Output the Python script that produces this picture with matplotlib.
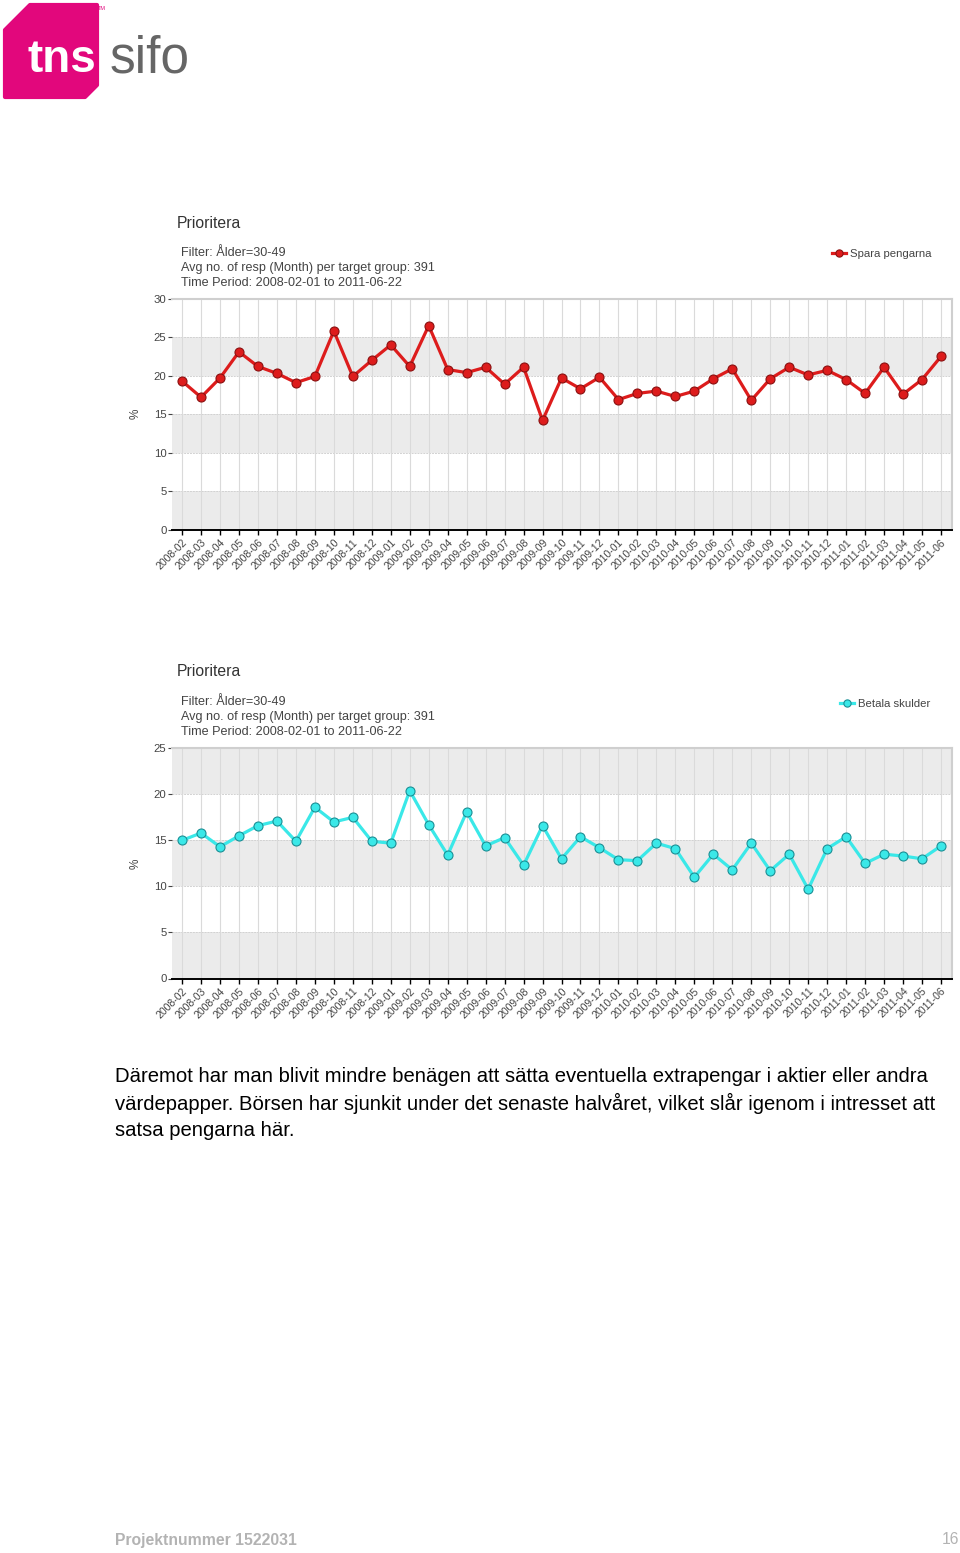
import matplotlib
matplotlib.use("Agg")
import matplotlib.pyplot as plt
from matplotlib.patches import Polygon

plt.rcParams['font.family'] = ['Liberation Sans', 'DejaVu Sans']

# months 2008-02 .. 2011-06
months = ["2008-02", "2008-03", "2008-04", "2008-05", "2008-06", "2008-07", "2008-08",
          "2008-09", "2008-10", "2008-11", "2008-12", "2009-01", "2009-02", "2009-03",
          "2009-04", "2009-05", "2009-06", "2009-07", "2009-08", "2009-09", "2009-10",
          "2009-11", "2009-12", "2010-01", "2010-02", "2010-03", "2010-04", "2010-05",
          "2010-06", "2010-07", "2010-08", "2010-09", "2010-10", "2010-11", "2010-12",
          "2011-01", "2011-02", "2011-03", "2011-04", "2011-05", "2011-06"]

spara = [19.3, 17.2, 19.7, 23.1, 21.2, 20.3, 19.1, 19.9, 25.8, 19.9, 22.0, 24.0, 21.2, 26.5,
         20.8, 20.4, 21.1, 18.9, 21.1, 14.2, 19.7, 18.3, 19.8, 16.9, 17.7, 18.0, 17.3, 18.0,
         19.6, 20.9, 16.8, 19.6, 21.1, 20.1, 20.7, 19.5, 17.7, 21.1, 17.6, 19.5, 22.5]

betala = [15.0, 15.8, 14.3, 15.5, 16.6, 17.1, 14.9, 18.6, 17.0, 17.5, 14.9, 14.7, 20.4, 16.7,
          13.4, 18.1, 14.4, 15.3, 12.3, 16.6, 13.0, 15.4, 14.2, 12.9, 12.8, 14.7, 14.1, 11.0,
          13.5, 11.8, 14.7, 11.7, 13.5, 9.7, 14.1, 15.4, 12.5, 13.5, 13.3, 13.0, 14.4]

subtitle = ["Filter: Ålder=30-49",
            "Avg no. of resp (Month) per target group: 391",
            "Time Period: 2008-02-01 to 2011-06-22"]

paragraph = ["Däremot har man blivit mindre benägen att sätta eventuella extrapengar i aktier eller andra",
             "värdepapper. Börsen har sjunkit under det senaste halvåret, vilket slår igenom i intresset att",
             "satsa pengarna här."]

W, H = 960, 1553
fig = plt.figure(figsize=(W / 100, H / 100), dpi=100)


def fx(x):
    return x / W


def fy(y):
    return 1 - y / H


def txt(x, y, s, **kw):
    fig.text(fx(x), fy(y), s, **kw)


def panel(top, bottom, vals, ymax, color, edge, label, title_y, leg_x, leg_y):
    ax = fig.add_axes([fx(172), fy(bottom), fx(952) - fx(172), (bottom - top) / H])
    xs = list(range(len(months)))
    ax.set_xlim(-0.53, len(months) - 1 + 0.58)
    ax.set_ylim(0, ymax)
    for lo in range(0, ymax, 10):
        ax.axhspan(lo, lo + 5, color='#ebebeb', lw=0, zorder=0)
    for yv in range(5, ymax, 5):
        ax.axhline(yv, color='#d2d2d2', lw=0.7, ls=(0, (2, 1)), zorder=0.5)
    for xv in xs:
        ax.axvline(xv, color='#dadada', lw=0.8, zorder=0.6)
    ax.plot(xs, vals, color=color, lw=2.3, marker='o', ms=6.5,
            mfc=color, mec=edge, mew=0.8, zorder=3, label=label)
    ax.set_xticks(xs)
    ax.set_xticklabels(months, rotation=45, ha='right', rotation_mode='anchor',
                       fontsize=7.6, color='#444444')
    ax.set_yticks(range(0, ymax + 1, 5))
    ax.tick_params(axis='y', labelsize=8.2, labelcolor='#444444', length=3,
                   width=0.8, color='#444444', pad=1)
    ax.tick_params(axis='x', length=3.5, width=1, color='black', pad=2)
    for s in ['top', 'right']:
        ax.spines[s].set_color('#cfcfcf')
        ax.spines[s].set_linewidth(1.5)
    ax.spines['left'].set_visible(False)
    ax.spines['bottom'].set_color('black')
    ax.spines['bottom'].set_linewidth(1.4)
    ax.set_ylabel('%', fontsize=8.5, color='#444444', labelpad=9)
    ax.patch.set_facecolor('white')

    txt(177, title_y, "Prioritera", fontsize=11.3, color='#333333', va='center')
    for i, line in enumerate(subtitle):
        txt(181, title_y + 30 + 15 * i, line, fontsize=9.1, color='#444444', va='center')
    leg = ax.legend(loc='center left', bbox_to_anchor=(fx(leg_x), fy(leg_y)),
                    bbox_transform=fig.transFigure, frameon=False, fontsize=8.2,
                    handlelength=1.2, handletextpad=0.35, markerscale=0.8,
                    borderaxespad=0, borderpad=0)
    for t in leg.get_texts():
        t.set_color('#444444')
    return ax


panel(298.7, 529.7, spara, 30, '#dd1c1c', '#8a1010', "Spara pengarna", 223, 832, 254)
panel(748.3, 978.5, betala, 25, '#3ae8e8', '#1a8f95', "Betala skulder", 672, 840, 704)

# logo
magenta = '#e2077c'
logo = Polygon([[fx(5), fy(30)], [fx(30), fy(5)], [fx(97), fy(5)], [fx(97), fy(85)],
                [fx(85), fy(97)], [fx(5), fy(97)]], closed=True, transform=fig.transFigure,
               facecolor=magenta, edgecolor=magenta, lw=3, joinstyle='round')
fig.patches.append(logo)
txt(27, 60, "tns", fontsize=33, color='white', fontweight='bold', va='center')
txt(110, 59, "sifo", fontsize=37, color='#666666', va='center')
txt(98, 8, "TM", fontsize=4, color=magenta, va='center')

for i, line in enumerate(paragraph):
    txt(115, 1076 + 27 * i, line, fontsize=14.6, color='black', va='center')

txt(115, 1540, "Projektnummer 1522031", fontsize=11.3, color='#b3b3b3',
    fontweight='bold', va='center')
txt(959, 1540, "16", fontsize=11.3, color='#b3b3b3', va='center', ha='right')

fig.savefig("out.png", dpi=100, facecolor='white')
